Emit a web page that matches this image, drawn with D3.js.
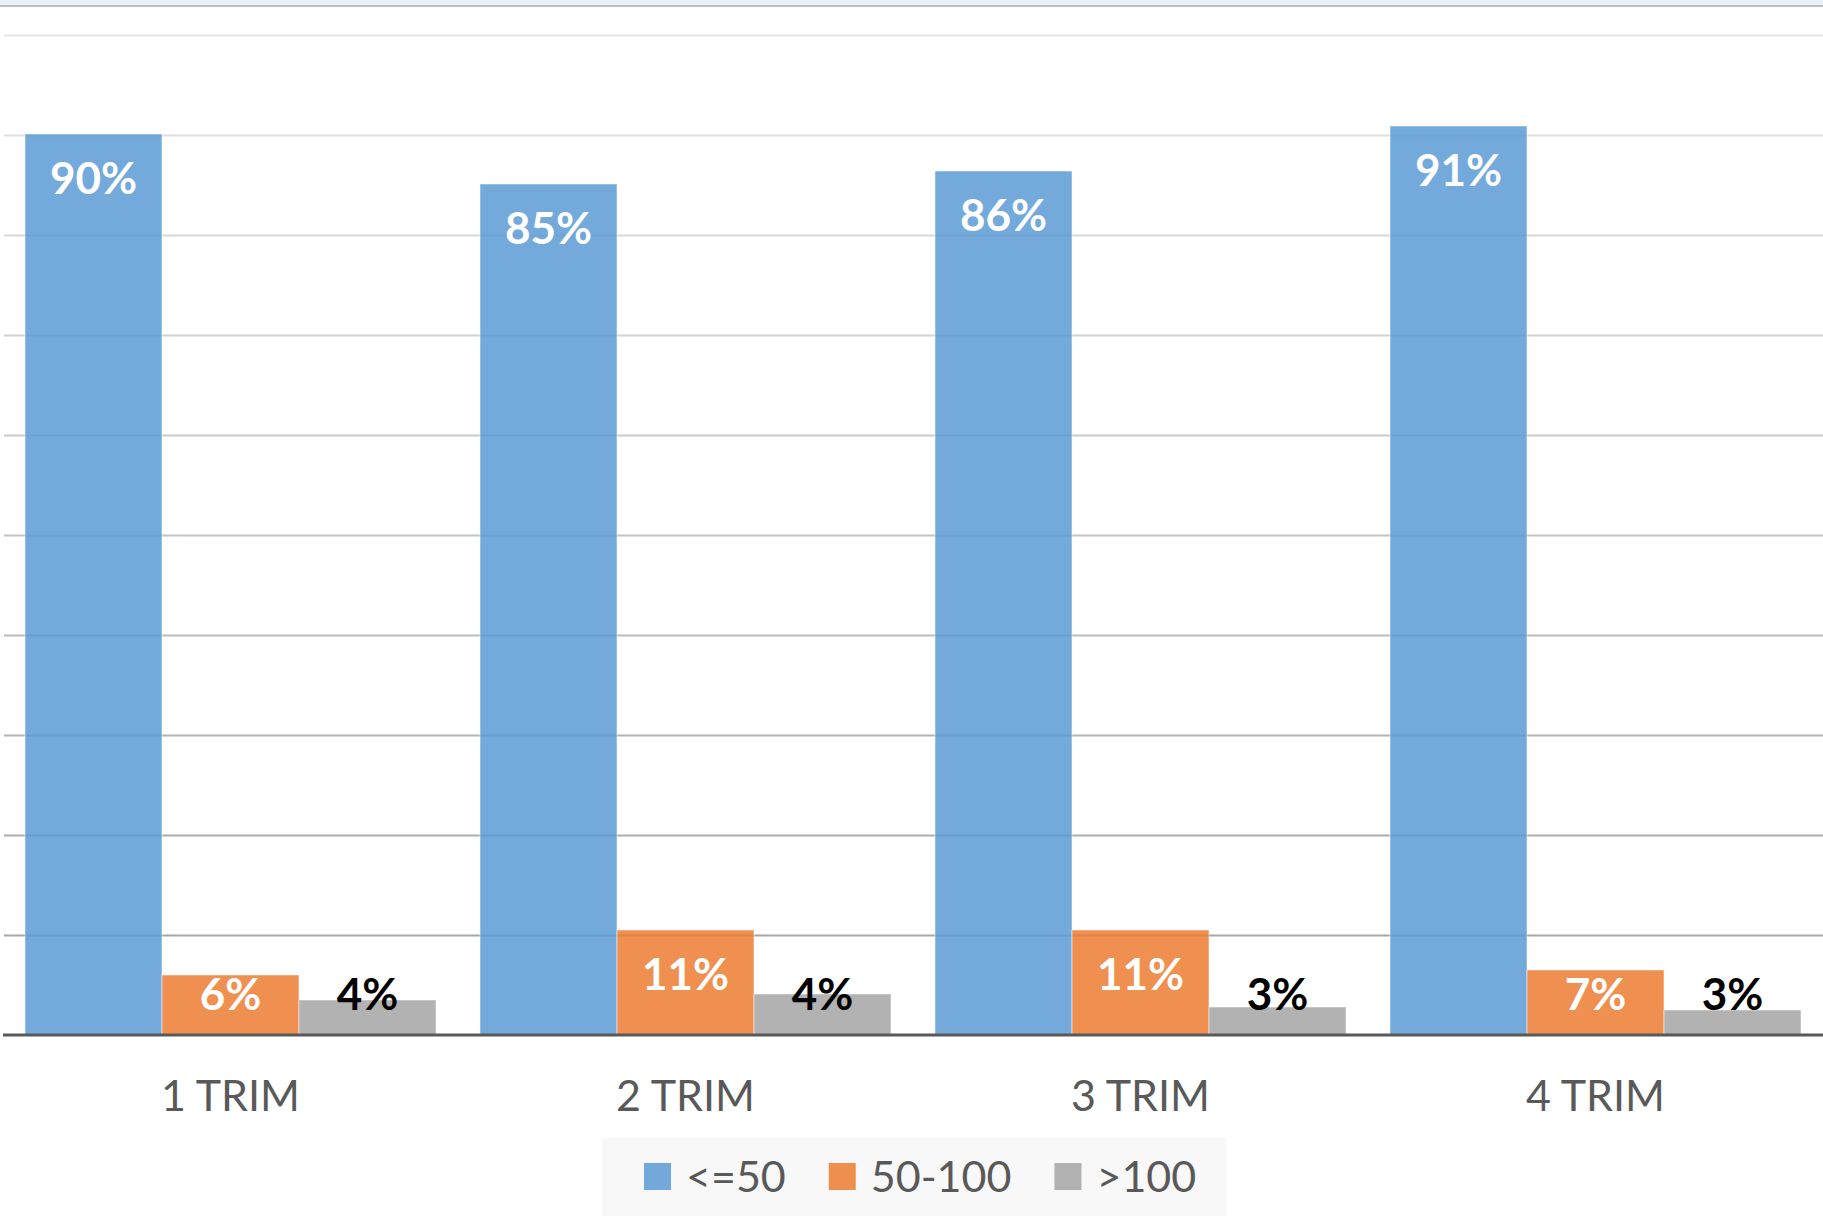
<!DOCTYPE html>
<html>
<head>
<meta charset="utf-8">
<script src="https://cdn.jsdelivr.net/npm/d3@7"></script>
<style>
    body { margin: 0; background: #ffffff; }
    svg { display: block; font-family: Lato, "Open Sans", sans-serif; }
</style>
</head>
<body>
<script>
// chart data (percent per quarter)
var categories = ["1 TRIM", "2 TRIM", "3 TRIM", "4 TRIM"];
var seriesNames = ["<=50", "50-100", ">100"];
var le50 = [90.1, 85.1, 86.4, 90.9];
var mid50100 = [6.0, 10.5, 10.5, 6.5];
var gt100 = [3.5, 4.1, 2.8, 2.5];
var yTicks = [0, 10, 20, 30, 40, 50, 60, 70, 80, 90, 100];

function init() {
    var w = 1823;
    var h = 1220;
    var left = 3, right = 1823, top = 35, bottom = 1035;
    var groupGap = 44;

    var colors = ["#5b9bd5", "#ed7d31", "#a5a5a5"];
    var labelColors = ["#ffffff", "#ffffff", "#000000"];
    var seriesValues = [le50, mid50100, gt100];

    var svg = d3.select("body")
        .append("svg")
        .attr("width", w)
        .attr("height", h);

    // light strip at the very top
    svg.append("rect")
        .attr("x", 0).attr("y", 0)
        .attr("width", w).attr("height", 5)
        .attr("fill", "#e9f0f8");
    svg.append("line")
        .attr("x1", 0).attr("x2", w)
        .attr("y1", 6).attr("y2", 6)
        .attr("stroke", "#bdbdbd")
        .attr("stroke-width", 2);

    var x0 = d3.scaleBand()
        .domain(categories)
        .range([left, right]);

    var x1 = d3.scaleBand()
        .domain(seriesNames)
        .range([groupGap / 2, x0.bandwidth() - groupGap / 2]);

    var y = d3.scaleLinear()
        .domain([0, 100])
        .range([bottom, top]);

    // gridlines get darker towards the bottom
    var gridColor = d3.interpolateRgb("#9f9f9f", "#e6e6e6");

    var grid = svg.append("g")
        .attr("transform", "translate(" + (left + 1) + ",0)")
        .call(d3.axisLeft(y)
            .tickValues(yTicks.slice(1))
            .tickSize(-(right - left))
            .tickFormat(""));
    grid.select(".domain").remove();
    grid.selectAll(".tick line")
        .attr("stroke", function (d) { return gridColor(d / 100); })
        .attr("stroke-width", 2);

    // bars
    var groups = svg.selectAll("g.cat")
        .data(categories)
        .enter()
        .append("g")
        .attr("class", "cat")
        .attr("transform", function (d) { return "translate(" + x0(d) + ",0)"; });

    var rows = groups.selectAll("g.bar")
        .data(function (d, i) {
            return seriesNames.map(function (s, j) {
                return { series: s, index: j, value: seriesValues[j][i] };
            });
        })
        .enter()
        .append("g")
        .attr("class", "bar");

    rows.append("rect")
        .attr("x", function (d) { return x1(d.series); })
        .attr("y", function (d) { return y(d.value); })
        .attr("width", x1.bandwidth())
        .attr("height", function (d) { return y(0) - y(d.value); })
        .attr("fill", function (d) { return colors[d.index]; })
        .attr("fill-opacity", 0.85)
        .attr("stroke", "#ffffff")
        .attr("stroke-opacity", 0.5)
        .attr("stroke-width", 1);

    // value labels: inside end, pushed up to sit above the axis when the bar is short
    rows.append("text")
        .attr("x", function (d) { return x1(d.series) + x1.bandwidth() / 2; })
        .attr("y", function (d) { return Math.min(y(d.value) + 60, y(0) - 25); })
        .attr("text-anchor", "middle")
        .attr("font-size", 44)
        .attr("font-weight", "bold")
        .attr("fill", function (d) { return labelColors[d.index]; })
        .text(function (d) { return Math.round(d.value) + "%"; });

    // x axis baseline
    svg.append("line")
        .attr("x1", left).attr("x2", right)
        .attr("y1", y(0)).attr("y2", y(0))
        .attr("stroke", "#595959")
        .attr("stroke-width", 3);

    var xAxis = svg.append("g")
        .attr("transform", "translate(0," + y(0) + ")")
        .call(d3.axisBottom(x0).tickSize(0));
    xAxis.select(".domain").remove();
    xAxis.selectAll("text")
        .attr("y", 76)
        .attr("dy", null)
        .attr("font-family", "Lato, 'Open Sans', sans-serif")
        .attr("font-size", 43)
        .attr("fill", "#595959");

    // legend
    var legend = svg.append("g");
    legend.append("rect")
        .attr("x", 602).attr("y", 1138)
        .attr("width", 624).attr("height", 78)
        .attr("fill", "#f8f8f8");

    var lx = 644;
    seriesNames.forEach(function (s, i) {
        legend.append("rect")
            .attr("x", lx).attr("y", 1163)
            .attr("width", 27).attr("height", 27)
            .attr("fill", colors[i])
            .attr("fill-opacity", 0.85);
        var t = legend.append("text")
            .attr("x", lx + 42)
            .attr("y", 1192)
            .attr("font-size", 43)
            .attr("fill", "#595959")
            .text(s);
        lx = lx + 42 + t.node().getComputedTextLength() + 43;
    });
}
window.onload = init;
</script>
</body>
</html>
